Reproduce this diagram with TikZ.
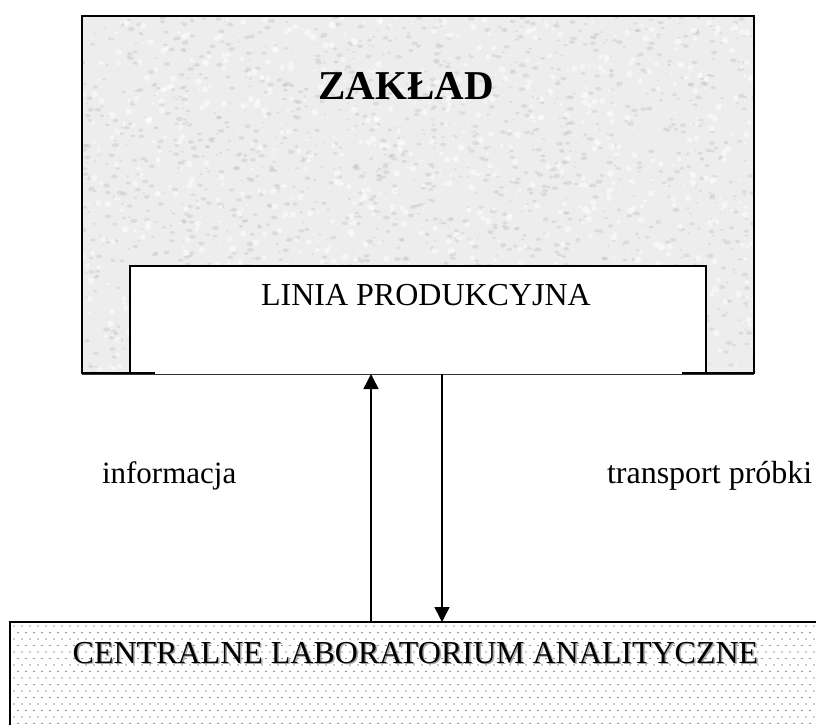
\documentclass[tikz,border=0pt]{standalone}
\usepackage{fontspec}
\setmainfont{Liberation Serif}
\usetikzlibrary{arrows.meta}
\tikzset{
  boxnode/.style={rectangle, inner sep=0pt, outer sep=0pt},
  txt/.style={inner sep=0pt, outer sep=0pt, font=\fontsize{31}{36}\selectfont},
  bigtxt/.style={inner sep=0pt, outer sep=0pt, font=\fontsize{32}{38}\selectfont},
  flow/.style={line width=1.5pt, -{Triangle[length=15pt,width=15pt]}},
  frame/.style={line width=2pt, line cap=rect},
}
\begin{document}
\begin{tikzpicture}[x=1pt,y=-1pt]
\useasboundingbox (0,0) rectangle (816,724);
% ZAKLAD box
\node[boxnode, fill=black!7, minimum width=672pt, minimum height=357pt] (zaklad) at (418,194.5) {};
\begin{scope}
\clip (zaklad.north west) rectangle (zaklad.south east);
\pgfmathsetseed{7}
\foreach \i in {1,...,1800}{
  \pgfmathsetmacro\rx{82+672*rnd}
  \pgfmathsetmacro\ry{16+357*rnd}
  \pgfmathsetmacro\rr{1+2.5*rnd}
  \fill[black!24, opacity=0.4] (\rx,\ry) ellipse ({\rr pt} and {0.6*\rr pt});
}
\foreach \i in {1,...,1000}{
  \pgfmathsetmacro\rx{82+672*rnd}
  \pgfmathsetmacro\ry{16+357*rnd}
  \pgfmathsetmacro\rr{1+2.5*rnd}
  \fill[white, opacity=0.5] (\rx,\ry) circle (\rr pt);
}
\end{scope}
\draw[frame] (zaklad.south west) -- (zaklad.north west) -- (zaklad.north east) -- (zaklad.south east);
% LINIA box
\node[boxnode, fill=white, minimum width=576pt, minimum height=108pt] (linia) at (418,320) {};
\draw[frame] (linia.south west) -- (linia.north west) -- (linia.north east) -- (linia.south east);
\draw[frame] (zaklad.south west) -- ++(72,0);
\draw[frame] (zaklad.south east) -- ++(-71,0);
\draw[line width=1pt, black!80] ([yshift=-1pt]zaklad.south west) -- ([yshift=-1pt]zaklad.south east);
% LAB box
\node[boxnode, minimum width=806pt, minimum height=102pt] (lab) at (413,673) {};
\begin{scope}
\clip (lab.north west) rectangle (lab.south east);
\foreach \r in {0,...,16}{
  \pgfmathsetmacro\yy{626+6.5*\r}
  \pgfmathsetmacro\off{mod(\r,2)*4}
  \foreach \c in {0,...,101}{
    \fill[black!85] (14+\off+8*\c,\yy) circle (0.6pt);
  }
}
\end{scope}
\draw[frame] (lab.south west) -- (lab.north west) -- (lab.north east);
% texts
\node[inner sep=0pt, anchor=base, font=\fontsize{41}{48}\selectfont\bfseries] (ztxt) at (406,99) {ZAKŁAD};
\node[bigtxt, anchor=base] (ltxt) at (426,305) {LINIA PRODUKCYJNA};
\node[txt, anchor=base west] (info) at (102,483) {informacja};
\node[bigtxt, anchor=base west] (trans) at (607,483) {transport próbki};
\node[bigtxt, anchor=base, text=black!35] (labshadow) at (417,664.5) {CENTRALNE LABORATORIUM ANALITYCZNE};
\node[bigtxt, anchor=base] (labtxt) at (415.5,663) {CENTRALNE LABORATORIUM ANALITYCZNE};
% arrows
\coordinate (upS) at (371,622);
\coordinate (dnS) at (442,374);
\draw[flow] (upS) -- (upS |- linia.south);
\draw[flow] (dnS) -- (dnS |- lab.north);
\end{tikzpicture}
\end{document}
